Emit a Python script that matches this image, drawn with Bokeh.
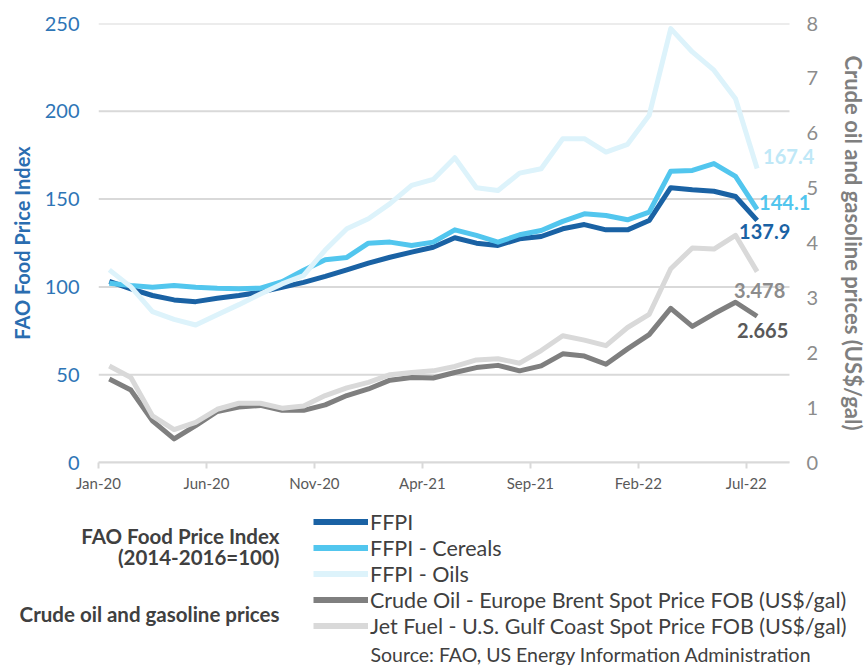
from bokeh.plotting import figure
from bokeh.layouts import column
from bokeh.models import (Range1d, LinearAxis, FixedTicker, ColumnDataSource, Legend,
                          LegendItem, LabelSet, Label)
from bokeh.core.properties import value
from bokeh.embed import file_html
from bokeh.resources import INLINE

# ---------------- data ----------------
months = ["Jan-20", "Feb-20", "Mar-20", "Apr-20", "May-20", "Jun-20", "Jul-20", "Aug-20",
          "Sep-20", "Oct-20", "Nov-20", "Dec-20", "Jan-21", "Feb-21", "Mar-21", "Apr-21",
          "May-21", "Jun-21", "Jul-21", "Aug-21", "Sep-21", "Oct-21", "Nov-21", "Dec-21",
          "Jan-22", "Feb-22", "Mar-22", "Apr-22", "May-22", "Jun-22", "Jul-22"]

ffpi = [103.2, 98.9, 95.1, 92.6, 91.6, 93.5, 95.1, 97.0, 99.8, 102.6, 106.0, 109.7,
        113.5, 116.9, 119.8, 122.6, 128.0, 124.9, 123.6, 127.4, 128.7, 133.1, 135.5, 132.5,
        132.5, 137.8, 156.5, 155.3, 154.5, 151.5, 137.9]
ffpi_cereals = [102.1, 100.8, 99.8, 100.8, 99.8, 99.2, 98.9, 99.3, 103.0, 109.5, 115.5, 116.8,
                124.9, 125.5, 123.6, 125.5, 132.5, 129.3, 125.5, 129.7, 132.1, 137.3, 141.6, 140.7,
                138.2, 142.6, 165.9, 166.3, 170.2, 162.9, 144.1]
ffpi_oils = [109.7, 100.0, 85.9, 81.5, 78.3, 84.2, 89.9, 96.0, 101.7, 106.5, 121.0, 133.1,
             138.8, 147.4, 157.8, 161.2, 173.6, 156.5, 154.9, 164.8, 167.3, 184.4, 184.4, 176.8,
             181.2, 197.7, 247.1, 233.8, 223.4, 207.2, 167.4]
crude_oil = [1.52, 1.32, 0.76, 0.43, 0.67, 0.93, 1.01, 1.04, 0.95, 0.95, 1.05, 1.22,
             1.34, 1.50, 1.55, 1.54, 1.64, 1.73, 1.77, 1.67, 1.76, 1.98, 1.94, 1.79,
             2.07, 2.33, 2.81, 2.48, 2.71, 2.92, 2.665]
jet_fuel = [1.76, 1.55, 0.85, 0.60, 0.73, 0.97, 1.08, 1.08, 0.99, 1.03, 1.22, 1.36,
            1.46, 1.60, 1.64, 1.67, 1.75, 1.87, 1.89, 1.81, 2.04, 2.31, 2.23, 2.13,
            2.46, 2.70, 3.53, 3.91, 3.89, 4.14, 3.478]

food_ticks = [0, 50, 100, 150, 200, 250]
fuel_ticks = [0, 1, 2, 3, 4, 5, 6, 7, 8]
tick_every = 5

series_names = ["FFPI", "FFPI - Cereals", "FFPI - Oils",
                "Crude Oil - Europe Brent Spot Price FOB (US$/gal)",
                "Jet Fuel - U.S. Gulf Coast Spot Price FOB (US$/gal)"]
group_headers = ["FAO Food Price Index", "(2014-2016=100)", "Crude oil and gasoline prices"]
source_note = "Source: FAO, US Energy Information Administration"

# ---------------- styles ----------------
C_FFPI = "#1A62A4"
C_CER = "#52C6EE"
C_OIL = "#DDF3FB"
C_CRUDE = "#7F7F7F"
C_JET = "#D9D9D9"
C_GRID = "#D9D9D9"
FONT = "Lato"
W, H = 867, 667

# layout geometry (pixels)
FRAME_L, FRAME_W, FRAME_T, FRAME_H, BOTTOM = 98, 726, 23, 439, 36
PX_PER_M = 21.594              # px per month
x_lo = -0.5
x_hi = x_lo + FRAME_W / PX_PER_M
grid_x0, grid_x1 = -0.5, len(months) + 0.5

x = list(range(len(months)))
src = ColumnDataSource(dict(x=x, ffpi=ffpi, cer=ffpi_cereals, oil=ffpi_oils,
                            crude=crude_oil, jet=jet_fuel))

p = figure(frame_width=FRAME_W, frame_height=FRAME_H, output_backend="svg",
           toolbar_location=None, x_range=Range1d(x_lo, x_hi),
           y_range=Range1d(food_ticks[0], food_ticks[-1]),
           min_border_left=FRAME_L, min_border_right=W - FRAME_L - FRAME_W,
           min_border_top=FRAME_T, min_border_bottom=BOTTOM)
p.frame_align = False
p.extra_y_ranges = {"fuel": Range1d(fuel_ticks[0], fuel_ticks[-1])}
p.outline_line_color = None
p.background_fill_color = "white"
p.border_fill_color = "white"
p.xgrid.visible = False
p.ygrid.visible = False

# horizontal gridlines limited to the data span
p.segment(x0=[grid_x0] * len(food_ticks), x1=[grid_x1] * len(food_ticks),
          y0=food_ticks, y1=food_ticks, line_color=C_GRID, line_width=2)

# x axis
xa = p.xaxis[0]
tick_pos = [i - 0.5 for i in range(0, len(months), tick_every)]
xa.ticker = FixedTicker(ticks=tick_pos)
xa.major_label_overrides = {i - 0.5: months[i] for i in range(0, len(months), tick_every)}
xa.bounds = (grid_x0, grid_x1)
xa.axis_line_color = C_GRID
xa.axis_line_width = 2
xa.major_tick_line_color = C_GRID
xa.major_tick_line_width = 2
xa.major_tick_in = 0
xa.major_tick_out = 6
xa.minor_tick_line_color = None
xa.major_label_standoff = 5
xa.major_label_text_font = FONT
xa.major_label_text_font_size = "15px"
xa.major_label_text_color = "#595959"

# left axis
ya = p.yaxis[0]
ya.ticker = FixedTicker(ticks=food_ticks)
ya.axis_line_color = None
ya.major_tick_line_color = None
ya.major_tick_out = 0
ya.major_tick_in = 0
ya.minor_tick_line_color = None
ya.major_label_standoff = 19
ya.major_label_text_font = FONT
ya.major_label_text_font_size = "20px"
ya.major_label_text_color = "#2E75B6"
ya.axis_label = "FAO Food Price Index"
ya.axis_label_text_font = FONT
ya.axis_label_text_font_style = "bold"
ya.axis_label_text_font_size = "20px"
ya.axis_label_text_color = "#2A6DB0"
ya.axis_label_standoff = 8

# right axis: labels pulled back next to the gridline ends
ra = LinearAxis(y_range_name="fuel", ticker=FixedTicker(ticks=fuel_ticks))
ra.axis_line_color = None
ra.major_tick_line_color = None
ra.major_tick_out = 0
ra.major_tick_in = 0
ra.minor_tick_line_color = None
ra.major_label_standoff = -18
ra.major_label_text_font = FONT
ra.major_label_text_font_size = "20px"
ra.major_label_text_color = "#8C8C8C"
ra.axis_label = "Crude oil and gasoline prices (US$/gal)"
ra.axis_label_text_font = FONT
ra.axis_label_text_font_style = "bold"
ra.axis_label_text_font_size = "22px"
ra.axis_label_text_color = "#7F7F7F"
ra.axis_label_standoff = 19
p.add_layout(ra, "right")

# lines
kw = dict(line_width=5, line_join="round")
p.line("x", "ffpi", source=src, line_color=C_FFPI, **kw)
p.line("x", "cer", source=src, line_color=C_CER, **kw)
p.line("x", "oil", source=src, line_color=C_OIL, **kw)
p.line("x", "crude", source=src, line_color=C_CRUDE, y_range_name="fuel", **kw)
p.line("x", "jet", source=src, line_color=C_JET, y_range_name="fuel", **kw)

# end labels
last = len(months) - 1
food_lab = ColumnDataSource(dict(
    x=[last] * 3, y=[ffpi_oils[-1], ffpi_cereals[-1], ffpi[-1]],
    text=[f"{ffpi_oils[-1]:.1f}", f"{ffpi_cereals[-1]:.1f}", f"{ffpi[-1]:.1f}"],
    color=["#BFE8F7", C_CER, C_FFPI], dx=[6, 2, -18], dy=[12, 7, -11]))
fuel_lab = ColumnDataSource(dict(
    x=[last] * 2, y=[jet_fuel[-1], crude_oil[-1]],
    text=[f"{jet_fuel[-1]:.3f}", f"{crude_oil[-1]:.3f}"],
    color=["#8C8C8C", "#595959"], dx=[-23, -20], dy=[-19, -14]))
for s, rng in ((food_lab, "default"), (fuel_lab, "fuel")):
    p.add_layout(LabelSet(x="x", y="y", text="text", source=s, y_range_name=rng,
                          x_offset="dx", y_offset="dy", text_color="color",
                          text_font=value(FONT), text_font_style="bold",
                          text_font_size="20px", text_align="left", text_baseline="middle"))

# ---------------- legend panel ----------------
H1 = FRAME_T + FRAME_H + BOTTOM
H2 = H - H1
p2 = figure(frame_width=W, frame_height=H2, output_backend="svg", toolbar_location=None,
            x_range=Range1d(0, W), y_range=Range1d(H2, 0),
            x_axis_type=None, y_axis_type=None,
            min_border_left=0, min_border_right=0, min_border_top=0, min_border_bottom=0)
p2.frame_align = False
p2.outline_line_color = None
p2.xgrid.visible = False
p2.ygrid.visible = False
p2.extra_y_ranges = {"off": Range1d(10000, 10001)}
src2 = ColumnDataSource(dict(x=x, ffpi=ffpi, cer=ffpi_cereals, oil=ffpi_oils,
                             crude=crude_oil, jet=jet_fuel))
lw = dict(line_width=6, y_range_name="off")
l1 = p2.line("x", "ffpi", source=src2, line_color=C_FFPI, **lw)
l2 = p2.line("x", "cer", source=src2, line_color=C_CER, **lw)
l3 = p2.line("x", "oil", source=src2, line_color=C_OIL, **lw)
l4 = p2.line("x", "crude", source=src2, line_color=C_CRUDE, **lw)
l5 = p2.line("x", "jet", source=src2, line_color=C_JET, **lw)

legend_top = 508.5 - H1
legend = Legend(items=[LegendItem(label=n, renderers=[r]) for n, r in
                       zip(series_names, [l1, l2, l3, l4, l5])],
                location=(313, H2 - legend_top - 5 * 26), orientation="vertical",
                glyph_width=55, glyph_height=25, label_height=25, label_standoff=2,
                spacing=0, padding=0, margin=0, border_line_color=None,
                background_fill_alpha=0,
                label_text_font=FONT, label_text_font_size="21.5px",
                label_text_color="#404040", label_text_baseline="middle")
p2.add_layout(legend, "center")

hdr = dict(text_font=FONT, text_font_style="bold", text_font_size="20.5px",
           text_color="#404040", text_align="right", text_baseline="middle")
for txt, yy in zip(group_headers, [535, 556, 613]):
    p2.add_layout(Label(x=279, y=yy - H1, text=txt, **hdr))
p2.add_layout(Label(x=370, y=654 - H1, text=source_note, text_font=FONT,
                    text_font_size="19.5px", text_color="#404040",
                    text_align="left", text_baseline="middle"))

layout = column(p, p2, spacing=0)
open("out.html", "w").write(file_html(layout, INLINE))
